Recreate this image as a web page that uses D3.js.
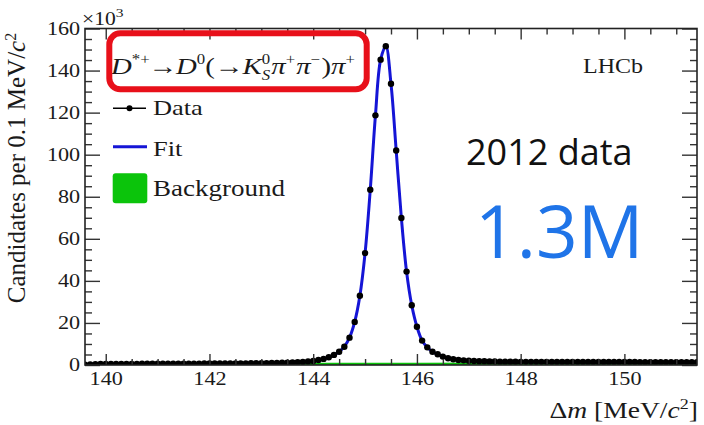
<!DOCTYPE html>
<meta charset="utf-8">
<style>
  body { margin: 0; background: #fff; }
  .serif { font-family: "Liberation Serif", "DejaVu Serif", serif; fill: #1a1a1a; }
</style>
<body>
<div id="my_dataviz"></div>

<script src="https://d3js.org/d3.v7.min.js"></script>
<script>

// histogram: 0.1 MeV bins, first bin centre at 139.6
var binStart = 139.6, binWidth = 0.1;

// candidates per bin (x10^3), one row per MeV
var counts = [].concat(
  [0.1, 0.3, 0.4, 0.45],
  [0.5, 0.5, 0.5, 0.55, 0.55, 0.55, 0.55, 0.6, 0.6, 0.6],
  [0.6, 0.6, 0.6, 0.65, 0.65, 0.65, 0.65, 0.65, 0.65, 0.7],
  [0.7, 0.7, 0.7, 0.7, 0.75, 0.75, 0.75, 0.75, 0.8, 0.8],
  [0.85, 0.9, 0.95, 1.0, 1.05, 1.1, 1.2, 1.3, 1.45, 1.65],
  [1.9, 2.4, 2.9, 3.7, 4.8, 6.3, 8.7, 13.0, 20.5, 32.9],
  [53.2, 83.3, 118.7, 145.2, 151.6, 133.7, 102.0, 69.9, 44.4, 28.4],
  [18.2, 11.6, 8.4, 6.3, 5.1, 4.0, 3.2, 2.7, 2.4, 2.2],
  [2.0, 1.9, 1.8, 1.75, 1.7, 1.65, 1.6, 1.6, 1.55, 1.55],
  [1.5, 1.5, 1.5, 1.5, 1.5, 1.45, 1.45, 1.45, 1.45, 1.45],
  [1.45, 1.45, 1.4, 1.4, 1.4, 1.4, 1.4, 1.4, 1.4, 1.4],
  [1.4, 1.4, 1.4, 1.35, 1.35, 1.35, 1.35, 1.35, 1.35, 1.35],
  [1.35, 1.35, 1.35, 1.35, 1.35]
);

// background component (x10^3)
var bgMass  = [139.6, 140, 141, 142, 143, 144, 145, 146, 148, 150, 151.4];
var bgLevel = [0, 0.15, 0.3, 0.4, 0.5, 0.55, 0.6, 0.65, 0.7, 0.75, 0.75];

var xTicks = [140, 142, 144, 146, 148, 150];
var yTicks = [0, 20, 40, 60, 80, 100, 120, 140, 160];

var data = counts.map(function(c, i) { return {m: binStart + i * binWidth, n: c}; });
var bg = bgMass.map(function(m, i) { return {m: m, n: bgLevel[i]}; });

var W = 704, H = 425;
var pL = 85, pR = 697, pT = 28.5, pB = 365;
var sx = 1.2; // the original plot is stretched sideways

var svg = d3.select("#my_dataviz").append("svg")
    .attr("width", W).attr("height", H);

var x = d3.scaleLinear().domain([139.6, 151.4]).range([pL, pR]);
var y = d3.scaleLinear().domain([0, 160]).range([pB, pT]);

svg.append("clipPath").attr("id", "clip")
  .append("rect").attr("x", pL).attr("y", pT - 5)
    .attr("width", pR - pL).attr("height", pB - pT + 5);

var plot = svg.append("g").attr("clip-path", "url(#clip)");

// background area
plot.append("path")
  .datum(bg)
  .attr("d", d3.area().x(function(d) { return x(d.m); })
    .y0(y(0)).y1(function(d) { return y(d.n); }))
  .attr("fill", "#0bc40b")
  .attr("stroke", "#0bc40b")
  .attr("stroke-width", 2);

// fit
plot.append("path")
  .datum(data)
  .attr("d", d3.line().curve(d3.curveCatmullRom)
    .x(function(d) { return x(d.m); })
    .y(function(d) { return y(d.n); }))
  .attr("fill", "none")
  .attr("stroke", "#1515d6")
  .attr("stroke-width", 3);

// data points
plot.selectAll("circle.pt")
  .data(data)
  .enter().append("circle")
    .attr("class", "pt")
    .attr("cx", function(d) { return x(d.m); })
    .attr("cy", function(d) { return y(d.n); })
    .attr("r", 3.2)
    .attr("fill", "#000");

// axes, ROOT style: ticks inside on all four sides
function minor(step, lo, hi, major) {
  var v = [];
  for (var t = lo; t <= hi + 1e-9; t += step) {
    if (major.every(function(m) { return Math.abs(m - t) > 1e-6; })) v.push(+t.toFixed(2));
  }
  return v;
}
var xMinor = minor(0.5, 139.5, 151.5, xTicks).filter(function(t) { return t > 139.6 && t < 151.4; });
var yMinor = minor(5, 0, 160, yTicks);

function styleAxis(g) {
  g.select(".domain").remove();
  g.selectAll("line").attr("stroke", "#333").attr("stroke-width", 1.4);
}

var gx = svg.append("g").attr("transform", "translate(0," + pB + ")")
  .call(d3.axisBottom(x).tickValues(xTicks).tickSize(-11).tickPadding(7).tickFormat(d3.format("d")))
  .call(styleAxis);
gx.selectAll("text").attr("class", "serif").style("font-size", "18.5px")
  .attr("fill", "#1a1a1a").attr("transform", "scale(" + sx + ",1)");
svg.append("g").attr("transform", "translate(0," + pB + ")")
  .call(d3.axisBottom(x).tickValues(xMinor).tickSize(-6).tickFormat(""))
  .call(styleAxis);
svg.append("g").attr("transform", "translate(0," + pT + ")")
  .call(d3.axisTop(x).tickValues(xTicks).tickSize(-11).tickFormat(""))
  .call(styleAxis);
svg.append("g").attr("transform", "translate(0," + pT + ")")
  .call(d3.axisTop(x).tickValues(xMinor).tickSize(-6).tickFormat(""))
  .call(styleAxis);

var gy = svg.append("g").attr("transform", "translate(" + pL + ",0)")
  .call(d3.axisLeft(y).tickValues(yTicks).tickSize(-15).tickPadding(4).tickFormat(d3.format("d")))
  .call(styleAxis);
gy.selectAll("text").attr("class", "serif").style("font-size", "18.5px")
  .attr("fill", "#1a1a1a").attr("transform", "scale(" + sx + ",1)");
svg.append("g").attr("transform", "translate(" + pL + ",0)")
  .call(d3.axisLeft(y).tickValues(yMinor).tickSize(-7).tickFormat(""))
  .call(styleAxis);
svg.append("g").attr("transform", "translate(" + pR + ",0)")
  .call(d3.axisRight(y).tickValues(yTicks).tickSize(-15).tickFormat(""))
  .call(styleAxis);
svg.append("g").attr("transform", "translate(" + pR + ",0)")
  .call(d3.axisRight(y).tickValues(yMinor).tickSize(-7).tickFormat(""))
  .call(styleAxis);

// frame
svg.append("rect")
  .attr("x", pL).attr("y", pT)
  .attr("width", pR - pL).attr("height", pB - pT)
  .attr("fill", "none").attr("stroke", "#222").attr("stroke-width", 1.6);

// helper for stretched serif text
function stext(px, py, size, anchor) {
  return svg.append("text").attr("class", "serif")
    .attr("transform", "translate(" + px + "," + py + ") scale(" + sx + ",1)")
    .attr("text-anchor", anchor || "start")
    .style("font-size", size + "px");
}

// x10^3
var e = stext(82, 25, 18);
e.append("tspan").text("\u00d710");
e.append("tspan").attr("dy", -8).style("font-size", "13px").text("3");

// axis titles
var xt = stext(698, 418, 23, "end");
xt.append("tspan").text("\u0394");
xt.append("tspan").style("font-style", "italic").text("m");
xt.append("tspan").text(" [MeV/");
xt.append("tspan").style("font-style", "italic").text("c");
xt.append("tspan").attr("dy", -9).style("font-size", "15px").text("2");
xt.append("tspan").attr("dy", 9).text("]");

var yt = svg.append("text").attr("class", "serif")
  .attr("transform", "translate(25,168) rotate(-90)")
  .attr("text-anchor", "middle")
  .style("font-size", "25px");
yt.append("tspan").text("Candidates per 0.1 MeV/");
yt.append("tspan").style("font-style", "italic").text("c");
yt.append("tspan").attr("dy", -9).style("font-size", "16px").text("2");

// LHCb
stext(643, 73, 20, "end").text("LHCb");

// decay title
var t = stext(111, 74, 24);
function part(txt, opt) {
  var s = t.append("tspan").text(txt);
  opt = opt || {};
  if (opt.it) s.style("font-style", "italic");
  if (opt.sz) s.style("font-size", opt.sz + "px");
  if (opt.dy) s.attr("dy", opt.dy);
  if (opt.dx) s.attr("dx", opt.dx);
  return s;
}
part("D", {it: 1});
part("*+", {sz: 14, dy: -10});
part("\u2192", {dy: 10, dx: -1});
part("D", {it: 1, dx: -1});
part("0", {sz: 14, dy: -10});
part("(\u2192", {dy: 10});
part("K", {it: 1, dx: -1});
part("0", {sz: 14, dy: -10});
part("S", {sz: 14, dy: 16, dx: -7, it: 1});
part("\u03c0", {it: 1, dy: -6, dx: 1});
part("+", {sz: 14, dy: -10});
part("\u03c0", {it: 1, dy: 10, dx: 1});
part("\u2212", {sz: 14, dy: -10});
part(")", {dy: 10, dx: 1});
part("\u03c0", {it: 1});
part("+", {sz: 14, dy: -10});

// red highlight box
svg.append("rect")
  .attr("x", 109.3).attr("y", 33.3).attr("width", 257.4).attr("height", 56)
  .attr("rx", 11)
  .attr("fill", "none").attr("stroke", "#e8101a").attr("stroke-width", 6);

// legend
svg.append("line").attr("x1", 113).attr("x2", 146).attr("y1", 108.3).attr("y2", 108.3)
  .attr("stroke", "#000").attr("stroke-width", 1.5);
svg.append("circle").attr("cx", 129.5).attr("cy", 108.3).attr("r", 3).attr("fill", "#000");
stext(153, 115, 22).text("Data");

svg.append("line").attr("x1", 113).attr("x2", 147).attr("y1", 146.7).attr("y2", 146.7)
  .attr("stroke", "#1515d6").attr("stroke-width", 3);
stext(153, 156, 22).text("Fit");

svg.append("rect").attr("x", 112.7).attr("y", 173.3).attr("width", 34.6).attr("height", 30)
  .attr("rx", 3).attr("fill", "#0bc40b");
stext(153, 196, 22.5).text("Background");

// annotations
svg.append("text").attr("x", 466).attr("y", 165)
  .style("font-family", "'Open Sans', sans-serif").style("font-size", "36px")
  .attr("fill", "#111").text("2012 data");
svg.append("text").attr("x", 475).attr("y", 258)
  .style("font-family", "'Open Sans', sans-serif").style("font-size", "73px")
  .attr("fill", "#1f74e8").text("1.3M");

</script>
</body>
